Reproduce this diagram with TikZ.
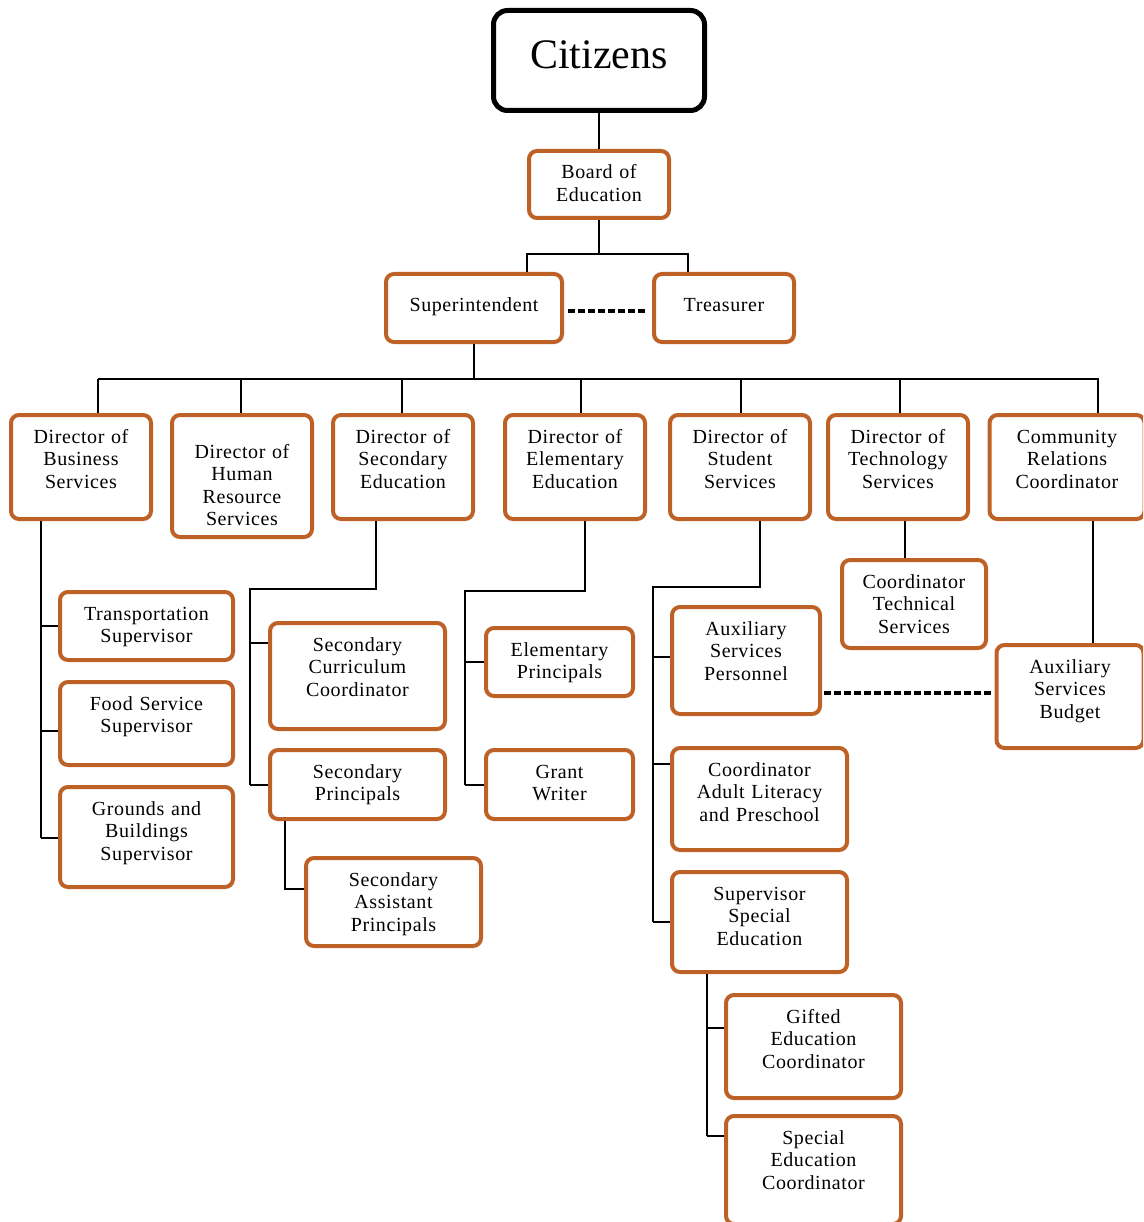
\documentclass[tikz,border=0pt]{standalone}
\usepackage{fontspec}
\setmainfont{Liberation Serif}
\newfontfamily\boxfont[LetterSpace=3]{Liberation Serif}
\definecolor{rust}{RGB}{190,97,39}
\tikzset{
  every picture/.style={line width=1.8pt, line join=miter},
  % boxes: width, height; first baseline 28pt below the top
  cell/.style 2 args={draw=rust, line width=4pt, rounded corners=8pt, fill=white,
    inner sep=0pt, align=center, text width=#1pt, text height=28pt, text depth={#2pt-28pt},
    font=\boxfont\fontsize{20}{22.5}\selectfont},
  top/.style={draw, line width=5pt, rounded corners=14pt, inner sep=0pt,
    font=\fontsize{42}{50}\selectfont},
  dotline/.style={line width=3.2pt, dash pattern=on 7pt off 3pt},
}
\begin{document}
\begin{tikzpicture}[x=1pt, y=-1pt]
  \useasboundingbox (0,0) rectangle (1143,1222);
  \clip (0,0) rectangle (1143,1222);
  % Spitze
  \node[top, minimum width=211pt, minimum height=100pt, text height=30pt, text depth=13pt] (citizens) at (599,60.5) {Citizens};
  \node[cell={140}{67}] (board) at (599,184.5) {Board of\\Education};
  \node[cell={176}{68}, text height=38pt, text depth=30pt] (super) at (474,308) {Superintendent};
  \node[cell={140}{68}, text height=38pt, text depth=30pt] (treas) at (724,308) {Treasurer};
  % Direktoren
  \node[cell={140}{104}] (dbus) at (81,467) {Director of\\Business\\Services};
  \node[cell={140}{122}, text height=43pt, text depth=79pt] (dhr) at (242,476) {Director of\\Human\\Resource\\Services};
  \node[cell={140}{104}] (dsec) at (403,467) {Director of\\Secondary\\Education};
  \node[cell={140}{104}] (delem) at (575,467) {Director of\\Elementary\\Education};
  \node[cell={140}{104}] (dstu) at (740,467) {Director of\\Student\\Services};
  \node[cell={140}{104}] (dtech) at (898,467) {Director of\\Technology\\Services};
  \node[cell={155}{104}] (dcomm) at (1067,467) {Community\\Relations\\Coordinator};
  % Business
  \node[cell={173}{68}] (trans) at (146.5,626) {Transportation\\Supervisor};
  \node[cell={173}{83}] (food) at (146.5,723.5) {Food Service\\Supervisor};
  \node[cell={173}{100}] (grounds) at (146.5,837) {Grounds and\\Buildings\\Supervisor};
  % Secondary
  \node[cell={175}{106}] (seccur) at (357.5,676) {Secondary\\Curriculum\\Coordinator};
  \node[cell={175}{69}] (secpri) at (357.5,784.5) {Secondary\\Principals};
  \node[cell={175}{88}] (secasst) at (393.5,902) {Secondary\\Assistant\\Principals};
  % Elementary
  \node[cell={147}{68}] (elempri) at (559.5,662) {Elementary\\Principals};
  \node[cell={147}{69}] (grant) at (559.5,784.5) {Grant\\Writer};
  % Student Services
  \node[cell={148}{107}] (auxpers) at (746,660.5) {Auxiliary\\Services\\Personnel};
  \node[cell={175}{102}] (adult) at (759.5,799) {Coordinator\\Adult Literacy\\and Preschool};
  \node[cell={175}{100}] (superspec) at (759.5,922) {Supervisor\\Special\\Education};
  \node[cell={175}{103}] (gifted) at (813.5,1046.5) {Gifted\\Education\\Coordinator};
  \node[cell={175}{108}] (specco) at (813.5,1170) {Special\\Education\\Coordinator};
  % Technology, Community
  \node[cell={144}{88}] (coordtech) at (914,604) {Coordinator\\Technical\\Services};
  \node[cell={147}{103}] (auxbud) at (1070,696.5) {Auxiliary\\Services\\Budget};
  % Verbindungen oben
  \coordinate (bsplit) at (599,254);
  \coordinate (bus) at (474,379);
  \draw (citizens) -- (board);
  \draw (board) -- (bsplit);
  \draw (super.north -| 527,0) |- (bsplit) -| (treas.north -| 688,0);
  \draw[dotline, shorten <=4pt, shorten >=4pt] (super.east |- 0,311) -- (treas.west |- 0,311);
  \draw (super) -- (bus);
  \draw (98,379) -- (1099,379);
  \foreach \x/\n in {98/dbus, 241/dhr, 402/dsec, 581/delem, 741/dstu, 900/dtech, 1098/dcomm}
    \draw (\n.north -| \x,0) -- (\x,379);
  % Business
  \draw (dbus.south -| 41,0) -- (41,838);
  \foreach \n/\y in {trans/626, food/731, grounds/838}
    \draw (41,\y) -- (\n.west |- 0,\y);
  % Secondary
  \draw (dsec.south -| 376,0) |- (250,589) -- (250,785);
  \foreach \n/\y in {seccur/643, secpri/785}
    \draw (250,\y) -- (\n.west |- 0,\y);
  \draw (secpri.south -| 285,0) |- (secasst.west |- 0,889);
  % Elementary
  \draw (delem.south -| 585,0) |- (465,591) -- (465,785);
  \foreach \n/\y in {elempri/662, grant/785}
    \draw (465,\y) -- (\n.west |- 0,\y);
  % Student Services
  \draw (dstu.south -| 760,0) |- (653,587) -- (653,922);
  \foreach \n/\y in {auxpers/657, adult/764, superspec/922}
    \draw (653,\y) -- (\n.west |- 0,\y);
  \draw (superspec.south -| 707,0) -- (707,1136);
  \foreach \n/\y in {gifted/1028, specco/1136}
    \draw (707,\y) -- (\n.west |- 0,\y);
  % Technology, Community
  \draw (dtech.south -| 905,0) -- (coordtech.north -| 905,0);
  \draw (dcomm.south -| 1093,0) -- (auxbud.north -| 1093,0);
  \draw[dotline, shorten <=2pt, shorten >=4pt] (auxpers.east |- 0,693) -- (auxbud.west |- 0,693);
\end{tikzpicture}
\end{document}
